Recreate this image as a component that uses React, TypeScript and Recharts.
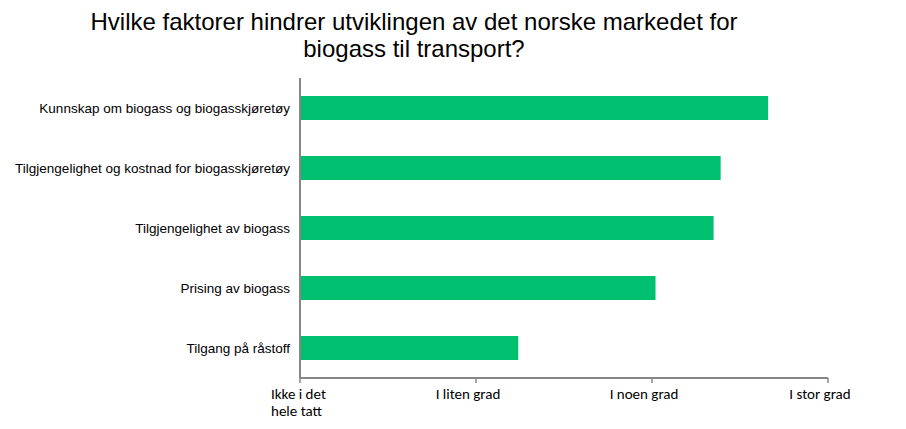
import React from 'react';
import { BarChart, Bar, XAxis, YAxis } from 'recharts';

const factors = [
  'Kunnskap om biogass og biogasskjøretøy',
  'Tilgjengelighet og kostnad for biogasskjøretøy',
  'Tilgjengelighet av biogass',
  'Prising av biogass',
  'Tilgang på råstoff',
];
const scores = [3.66, 3.39, 3.35, 3.02, 2.24];
const scaleTicks = [1, 2, 3, 4];
const scaleLabels = [['Ikke i det', 'hele tatt'], ['I liten grad'], ['I noen grad'], ['I stor grad']];

const data = factors.map((name, i) => ({ name, score: scores[i] }));

const AXIS = '#878787';

// egen tick for x-aksen, første etikett går over to linjer
const ScaleTick = (props: any) => {
  const { x, y, payload } = props;
  const idx = scaleTicks.indexOf(payload.value);
  const lines = scaleLabels[idx] || [];
  const multi = lines.length > 1;
  const tx = multi ? x - 29 : x - 8;
  return (
    <text
      x={tx}
      y={y}
      textAnchor={multi ? 'start' : 'middle'}
      fontFamily="Carlito, Calibri, 'Open Sans', sans-serif"
      fontSize={15}
      fill="#000"
    >
      {lines.map((l, i) => (
        <tspan key={i} x={tx} dy={i === 0 ? 14 : 17}>
          {l}
        </tspan>
      ))}
    </text>
  );
};

export default function App() {
  return (
    <div style={{ position: 'relative', width: 906, height: 429, background: '#fff' }}>
      <style>{'body{margin:0}'}</style>
      <div
        style={{
          position: 'absolute',
          top: 8,
          left: 0,
          width: 828,
          textAlign: 'center',
          fontFamily: "'Liberation Sans', Arial, sans-serif",
          fontSize: 24,
          lineHeight: '27px',
          color: '#000',
        }}
      >
        Hvilke faktorer hindrer utviklingen av det norske markedet for
        <br />
        biogass til transport?
      </div>
      <BarChart
        width={906}
        height={429}
        data={data}
        layout="vertical"
        margin={{ top: 78, right: 78, bottom: 0, left: 0 }}
        barCategoryGap="30%"
      >
        <XAxis
          type="number"
          domain={[1, 4]}
          ticks={scaleTicks}
          interval={0}
          axisLine={{ stroke: AXIS, strokeWidth: 2 }}
          tickLine={{ stroke: AXIS, strokeWidth: 1.5 }}
          tickSize={5}
          tick={<ScaleTick />}
          height={51}
        />
        <YAxis
          type="category"
          dataKey="name"
          width={300}
          axisLine={{ stroke: AXIS, strokeWidth: 2 }}
          tickLine={false}
          tickSize={0}
          tickMargin={10}
          tick={{ fontFamily: "'Liberation Sans', Arial, sans-serif", fontSize: 13.5, fill: '#000' }}
          interval={0}
        />
        <Bar dataKey="score" fill="#00BF6F" isAnimationActive={false} />
      </BarChart>
    </div>
  );
}
